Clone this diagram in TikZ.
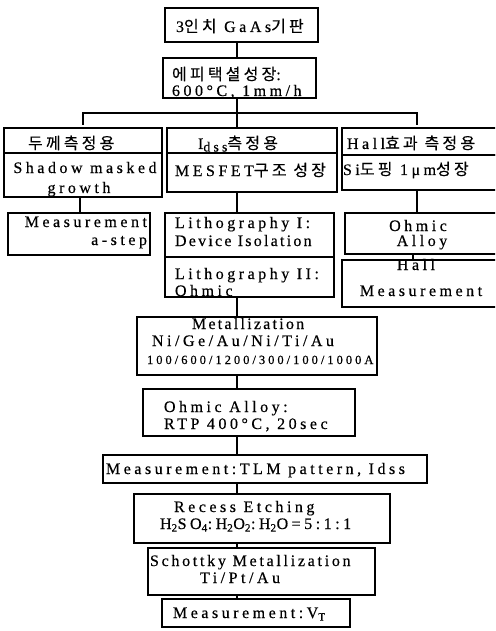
\documentclass[tikz,border=0pt]{standalone}
\usepackage{fontspec}
\setmainfont{Liberation Serif}[LetterSpace=22, FakeBold=0.4]
\newfontfamily\krfont{Noto Sans CJK KR}[LetterSpace=20, FakeBold=0.3]
\newcommand\kr{\krfont\fontsize{16}{19}\selectfont}
\newcommand\ls[1]{\addfontfeature{LetterSpace=#1}}
\newcommand\mkbox[5]{\node[box, minimum width={(#4-#2)*1pt}, minimum height={(#5-#3)*1pt}] (#1) at (#2,#3) {};}
\tikzset{
  box/.style={draw, line width=1.2pt, inner sep=0pt, outer sep=0pt, anchor=north west},
  txt/.style={inner sep=0pt, outer sep=0pt, font=\fontsize{16}{19}\selectfont},
  small/.style={inner sep=0pt, outer sep=0pt, font=\fontsize{12.5}{14}\selectfont},
  conn/.style={line width=1.2pt}
}
\begin{document}
\begin{tikzpicture}[x=1pt,y=-1pt]
\clip (0,0) rectangle (495,631);
\fill[white] (0,0) rectangle (495,631);
% boxes
\mkbox{b1}{165}{8}{318}{42}
\mkbox{b2}{163}{58}{316}{98}
\mkbox{h1}{4}{128}{162}{153}
\mkbox{l1}{4}{153}{162}{197}
\mkbox{h2}{167}{128}{337}{153}
\mkbox{m1}{167}{153}{337}{192}
\mkbox{h3}{342}{128}{500}{155}
\mkbox{r1}{342}{155}{500}{190}
\mkbox{l2}{8}{213}{150}{255}
\mkbox{m2}{165}{213}{334}{257}
\mkbox{m3}{165}{257}{334}{297}
\mkbox{r2}{345}{213}{500}{254}
\mkbox{r3}{342}{260}{500}{307}
\mkbox{m4}{137}{317}{377}{375}
\mkbox{m5}{143}{389}{355}{436}
\mkbox{m6}{103}{455}{427}{483}
\mkbox{m7}{134}{494}{390}{543}
\mkbox{m8}{148}{548}{375}{595}
\mkbox{m9}{162}{599}{350}{627}
% texts
\node[txt, anchor=base west] (t1) at (176,32) {3{\kr 인치} GaAs{\kr 기판}};
\node[txt, anchor=base west] (t2a) at (172,80) {{\kr 에피택셜성장}:};
\node[txt, anchor=base west] (t2b) at (172,96) {600°C, 1mm/h};
\node[txt, anchor=base west] (th1) at (28,149) {{\kr 두께측정용}};
\node[txt, anchor=base] (th2) at (238,149) {I{\fontsize{14}{14}\selectfont\raisebox{-2.5pt}{dss}}{\kr 측정용}};
\node[txt, anchor=base west] (th3) at (347,149) {Hall{\kr 효과 측정용}};
\node[txt, anchor=base] (tl1a) at (85,173) {Shadow masked};
\node[txt, anchor=base] (tl1b) at (79,193) {growth};
\node[txt, anchor=base west] (tm1) at (175,176) {MESFET{\kr 구조 성장}};
\node[txt, anchor=base west] (tr1) at (343,175) {Si{\kr 도핑} 1μm{\kr 성장}};
\node[txt, anchor=base east] (tl2a) at (147,227) {Measurement};
\node[txt, anchor=base east] (tl2b) at (147,245) {a-step};
\node[txt, anchor=base west] (tm2a) at (175,228) {Lithography I:};
\node[txt, anchor=base west] (tm2b) at (175,246) {\ls{14}Device Isolation};
\node[txt, anchor=base west] (tm3a) at (175,279) {Lithography II:};
\node[txt, anchor=base west] (tm3b) at (175,296) {Ohmic};
\node[txt, anchor=base] (tr2a) at (418,231) {Ohmic};
\node[txt, anchor=base] (tr2b) at (422,246) {Alloy};
\node[txt, anchor=base] (tr3a) at (416,270) {Hall};
\node[txt, anchor=base] (tr3b) at (421,296) {Measurement};
\node[txt, anchor=base west] (tm4a) at (192,329) {\ls{14}Metallization};
\node[txt, anchor=base west] (tm4b) at (152,346) {Ni/Ge/Au/Ni/Ti/Au};
\node[small, anchor=base west] (tm4c) at (147,364) {\ls{24}100/600/1200/300/100/1000A};
\node[txt, anchor=base west] (tm5a) at (164,412) {Ohmic Alloy:};
\node[txt, anchor=base west] (tm5b) at (164,429) {RTP 400°C, 20sec};
\node[txt, anchor=base west] (tm6) at (106,474) {Measurement:TLM pattern, Idss};
\node[txt, anchor=base west] (tm7a) at (174,512) {Recess Etching};
\node[txt, anchor=base west] (tm7b) at (160,529) {H\textsubscript{2}SO\textsubscript{4}:H\textsubscript{2}O\textsubscript{2}:H\textsubscript{2}O=5:1:1};
\node[txt, anchor=base west] (tm8a) at (150,566) {\ls{17}Schottky Metallization};
\node[txt, anchor=base west] (tm8b) at (200,583) {Ti/Pt/Au};
\node[txt, anchor=base west] (tm9) at (173,618) {Measurement:V\textsubscript{T}};
% connector guides
\coordinate (cx) at (237,0);
\coordinate (lx) at (80,0);
\coordinate (rx) at (417,0);
\coordinate (rx2) at (413,0);
\coordinate (bm) at (237,113);
\coordinate (bl) at (83,125);
\coordinate (br) at (417,125);
% connectors
\draw[conn] (cx |- b1.south) -- (cx |- b2.north);
\draw[conn] (cx |- b2.south) -- (cx |- h2.north);
\draw[conn] (bl) -- (bl |- bm) -- (br |- bm) -- (br);
\draw[conn] (lx |- l1.south) -- (lx |- l2.north);
\draw[conn] (cx |- m1.south) -- (cx |- m2.north);
\draw[conn] (rx |- r1.south) -- (rx |- r2.north);
\draw[conn] (rx2 |- r2.south) -- (rx2 |- r3.north);
\draw[conn] (cx |- m3.south) -- (cx |- m4.north);
\draw[conn] (cx |- m4.south) -- (cx |- m5.north);
\draw[conn] (cx |- m5.south) -- (cx |- m6.north);
\draw[conn] (cx |- m6.south) -- (cx |- m7.north);
\draw[conn] (cx |- m7.south) -- (cx |- m8.north);
\draw[conn] (cx |- m8.south) -- (cx |- m9.north);
\end{tikzpicture}
\end{document}
